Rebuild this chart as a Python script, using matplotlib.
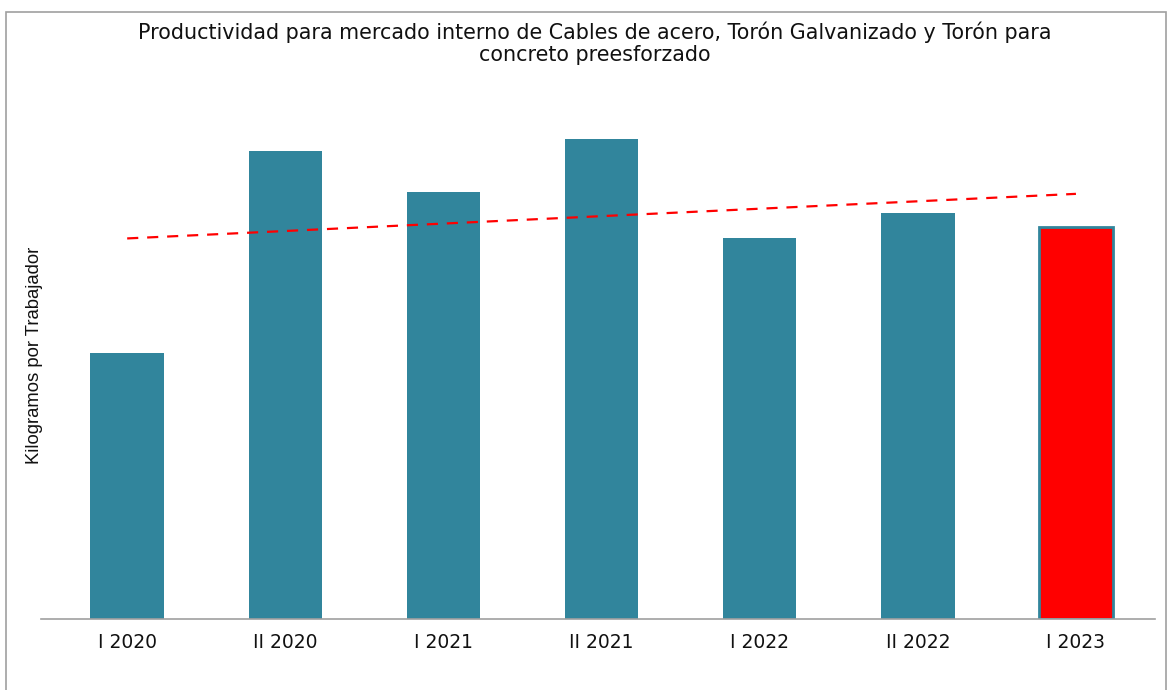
import numpy as np
import matplotlib.pyplot as plt
from matplotlib.patches import Rectangle

# datos (kg por trabajador, escala relativa)
periodos = ['I 2020', 'II 2020', 'I 2021', 'II 2021', 'I 2022', 'II 2022', 'I 2023']
valores = [266, 468, 427, 480, 381, 406, 392]

color_barra = '#31859C'
colores = [color_barra] * (len(valores) - 1) + ['#FF0000']

fig = plt.figure(figsize=(11.7, 6.9), dpi=100)
ax = fig.add_axes([41 / 1170, 1 - 619 / 690, (1155 - 41) / 1170, (619 - 80) / 690])

x = np.arange(len(periodos))
barras = ax.bar(x, valores, width=0.465, color=colores, zorder=2)
barras[-1].set_edgecolor(color_barra)
barras[-1].set_linewidth(2)

# linea de tendencia lineal
m, b = np.polyfit(x, valores, 1)
ax.plot(x, m * x + b, color='red', linestyle=(0, (5, 4)), linewidth=1.6, zorder=3)

ax.set_xlim(-0.545, 6.5)
ax.set_ylim(0, 539)
ax.set_xticks(x)
ax.set_xticklabels(periodos, fontsize=13.5, color='#111111')
ax.tick_params(axis='x', length=0, pad=10)
ax.set_yticks([])
for s in ['top', 'right', 'left']:
    ax.spines[s].set_visible(False)
ax.spines['bottom'].set_color('#A0A0A0')
ax.spines['bottom'].set_linewidth(1.2)

fig.text(595 / 1170, 1 - 43 / 690,
         'Productividad para mercado interno de Cables de acero, Torón Galvanizado y Torón para\nconcreto preesforzado',
         ha='center', va='center', fontsize=14.9, color='#111111', linespacing=1.1)

fig.text(35 / 1170, 1 - 355 / 690, 'Kilogramos por Trabajador', rotation=90,
         ha='center', va='center', fontsize=13.3,
         family=['Liberation Sans', 'DejaVu Sans'], color='#111111')

# marco exterior
fig.patches.append(Rectangle((6 / 1170, -0.05), (1166 - 6) / 1170, 1.05 - 12 / 690,
                             transform=fig.transFigure, fill=False,
                             edgecolor='#A0A0A0', linewidth=1.2))

fig.savefig('out.png', dpi=100)
